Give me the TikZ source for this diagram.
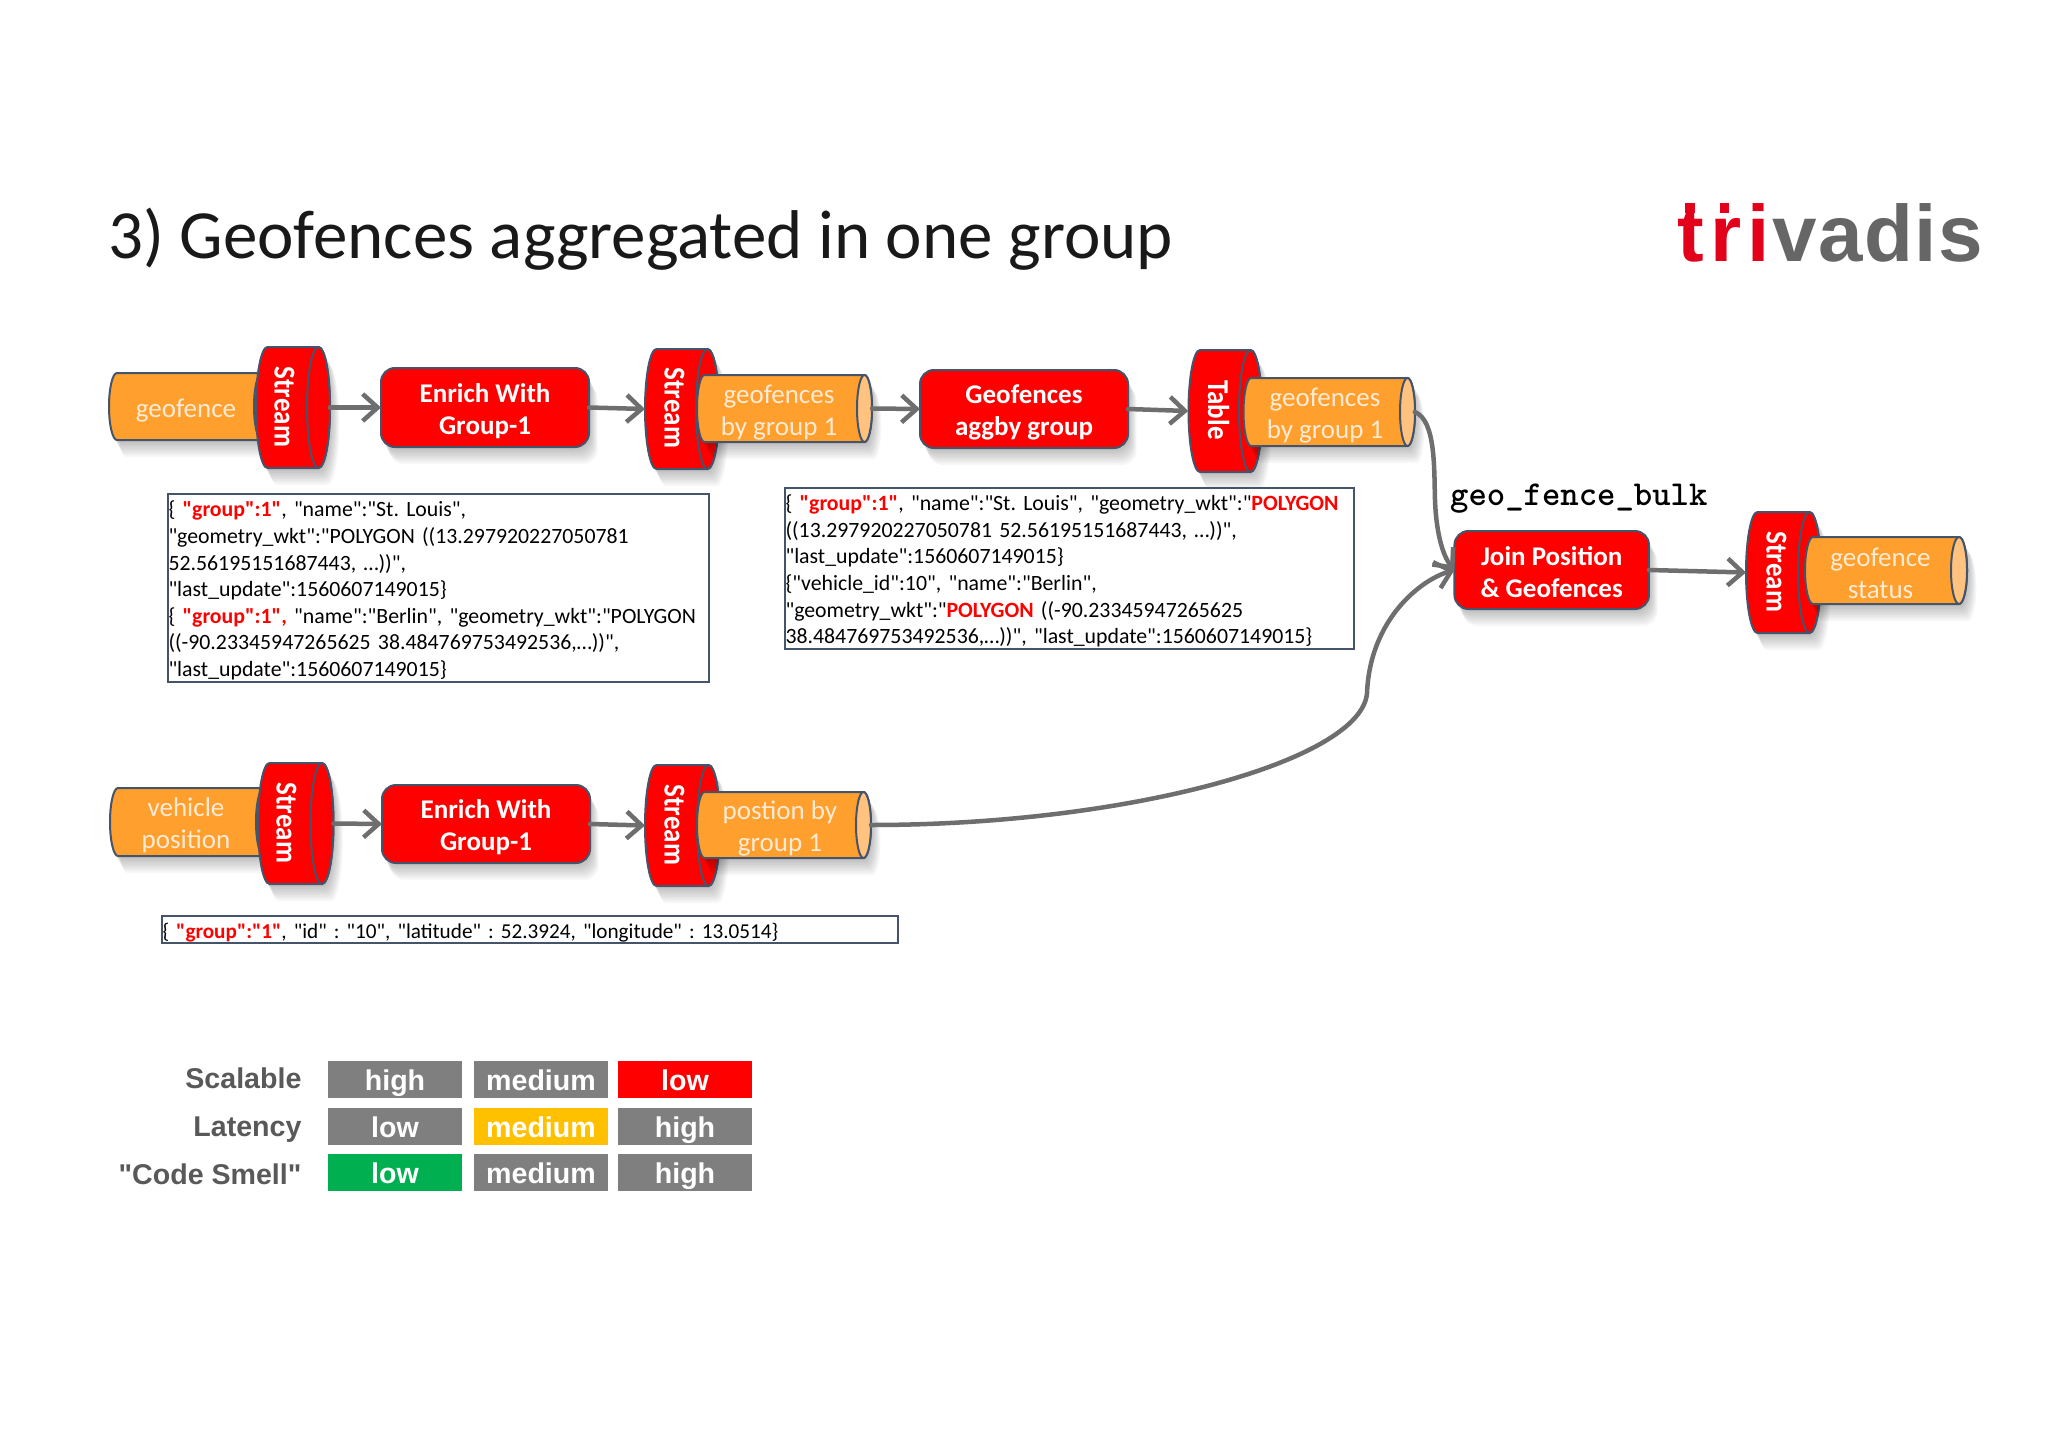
\documentclass[tikz,border=0pt]{standalone}
\usepackage{fontspec}
\setmainfont{Carlito}[Ligatures=TeXOff]
\newfontfamily\arialfont{Liberation Sans}
\newfontfamily\logofont[LetterSpace=8]{Liberation Sans}
\newfontfamily\logofontb[LetterSpace=2]{Liberation Sans}
\usetikzlibrary{arrows.meta}
\definecolor{slate}{HTML}{44546A}
\definecolor{orangebody}{HTML}{FF9F2E}
\definecolor{orangeend}{HTML}{FFC27F}
\definecolor{labeltext}{HTML}{FDEBD6}
\definecolor{flowgray}{HTML}{6E6E6E}
\definecolor{cellgray}{HTML}{7F7F7F}
\definecolor{cellamber}{HTML}{FFC000}
\definecolor{cellgreen}{HTML}{00B050}
\definecolor{tablelabel}{HTML}{595959}
\definecolor{logored}{HTML}{E2001A}
\definecolor{logogray}{HTML}{666666}
\newcommand{\jred}[1]{\textcolor{red}{\textbf{#1}}}
\newcommand{\firstline}{\rule{0pt}{21pt}}
\newcommand{\softcyl}[7]{%
  \pgfmathsetmacro\cL{#1+#5}%
  \pgfmathsetmacro\cR{#3-#5}%
  \pgfmathsetmacro\yM{(#2+#4)/2}%
  \pgfmathsetmacro\hH{(#4-#2)/2}%
  \pgfmathsetmacro\kX{.5523*#5}%
  \pgfmathsetmacro\kY{.5523*\hH}%
  \def\bodypath{(\cL,#2) -- (\cR,#2) .. controls (\cR+\kX,#2) and (#3,\yM-\kY) .. (#3,\yM) .. controls (#3,\yM+\kY) and (\cR+\kX,#4) .. (\cR,#4) -- (\cL,#4) .. controls (\cL-\kX,#4) and (#1,\yM+\kY) .. (#1,\yM) .. controls (#1,\yM-\kY) and (\cL-\kX,#2) .. cycle}%
  \foreach \s in {3,5,...,17} {\fill[black,opacity=.03,shift={(\s*.55,\s)}] \bodypath;}%
  \filldraw[draw=slate,line width=2pt,fill=#6] \bodypath;%
  \filldraw[draw=slate,line width=2pt,fill=#7] (\cR,\yM) ellipse [x radius=#5,y radius=\hH];%
}
\newcommand{\softbox}[4]{%
  \foreach \s in {3,5,...,17} {\fill[black,opacity=.03,rounded corners=14pt] (#1+\s*.5,#2+\s) rectangle (#3+\s*.5,#4+\s);}%
}
\tikzset{
  anchorbox/.style={inner sep=0pt,outer sep=0pt},
  orangelabel/.style={text=labeltext,align=center,yshift=-3pt,font=\fontsize{27}{32}\selectfont},
  redlabel/.style={text=white,rotate=-90,yscale=1.12,font=\bfseries\fontsize{27}{32}\selectfont},
  procbox/.style={draw=slate,line width=2pt,fill=red,rounded corners=14pt,inner sep=0pt,outer sep=0pt},
  proctext/.style={text=white,align=center,yshift=-3.5pt,font=\bfseries\fontsize{27}{32}\selectfont},
  jsonbox/.style={draw=slate,line width=2pt,fill=white,align=left,inner xsep=1pt,inner ysep=0pt,outer sep=0pt,anchor=north west},
  jsonbig/.style={font=\frenchspacing\fontsize{21.8}{26.6}\selectfont},
  jsonsmall/.style={font=\frenchspacing\fontsize{21.2}{26.6}\selectfont},
  flow/.style={draw=flowgray,line width=4.5pt,line cap=round,-{Straight Barb[length=15pt,width=27pt,line width=4.5pt]}},
  cell/.style={minimum width=134pt,minimum height=37pt,inner sep=0pt,text=white,text height=28pt,text depth=6pt,font=\arialfont\bfseries\fontsize{28.6}{32}\selectfont},
  rowlabel/.style={anchor=east,text=tablelabel,font=\arialfont\bfseries\fontsize{28.6}{32}\selectfont},
  logotext/.style={anchor=base west,inner sep=0pt},
}
\begin{document}
\begin{tikzpicture}[x=1pt,y=-1pt]
\useasboundingbox (0,0) rectangle (2048,1447);
\fill[white] (0,0) rectangle (2048,1447);

\node[anchor=west,text=black!90,font=\fontsize{69}{80}\selectfont,inner sep=0pt] (title) at (108,239) {3) Geofences aggregated in one group};
\node[logotext,text=logored,font=\logofont\bfseries\fontsize{80}{90}\selectfont] (logoa) at (1677,262) {tri};
\node[logotext,text=logogray,font=\logofontb\bfseries\fontsize{80}{90}\selectfont] (logob) at (1772,262) {vadis};
\fill[logored] (1685,203) rectangle (1695,213);
\fill[logored] (1720,203) rectangle (1729,213);

% top row
\softcyl{109}{373}{270}{440}{8}{orangebody}{orangebody}
\node[anchorbox,minimum width=147pt,minimum height=67pt] (c1) at (182.5,406.5) {};
\node[orangelabel] (c1t) at (186,408) {geofence};
\softcyl{256}{347}{330}{468}{11.5}{red}{red}
\node[anchorbox,minimum width=74pt,minimum height=121pt] (s1) at (293,407.5) {};
\node[redlabel] (s1t) at (284.5,407) {Stream};

\softbox{381}{368}{589}{447}
\node[procbox,minimum width=208pt,minimum height=79pt] (e1) at (485,407.5) {};
\node[proctext] (e1t) at (485,407.5) {Enrich With\\Group-1};

\softcyl{645}{349}{719}{469}{11.5}{red}{red}
\node[anchorbox,minimum width=74pt,minimum height=120pt] (s2) at (682,409) {};
\node[redlabel] (s2t) at (674.5,408) {Stream};
\softcyl{697}{375}{872}{442}{7.5}{orangebody}{orangeend}
\node[anchorbox,minimum width=175pt,minimum height=67pt] (c2) at (784.5,408.5) {};
\node[orangelabel] (c2t) at (779,410) {geofences\\by group 1};

\softbox{920}{370}{1128}{448}
\node[procbox,minimum width=208pt,minimum height=78pt] (g1) at (1024,409) {};
\node[proctext] (g1t) at (1024,409) {Geofences\\aggby group};

\softcyl{1188.5}{350}{1262}{472}{11.5}{red}{red}
\node[anchorbox,minimum width=73.5pt,minimum height=122pt] (t1) at (1225,411) {};
\node[redlabel] (t1t) at (1218.5,410) {Table};
\softcyl{1243.5}{378}{1415}{446}{7.5}{orangebody}{orangeend}
\node[anchorbox,minimum width=171.5pt,minimum height=68pt] (c3) at (1329,412) {};
\node[orangelabel] (c3t) at (1325,413) {geofences\\by group 1};

% json boxes
\node[jsonbox,jsonbig,text width=539.5pt,minimum height=188pt] (j1) at (167.5,494) {\firstline\{ \jred{"group":1"}, "name":"St. Louis",\\"geometry\_wkt":"POLYGON ((13.297920227050781\\52.56195151687443, …))",\\"last\_update":1560607149015\}\\\{ \jred{"group":1",} "name":"Berlin", "geometry\_wkt":"POLYGON\\((-90.23345947265625 38.484769753492536,…))",\\"last\_update":1560607149015\}};
\node[jsonbox,jsonbig,text width=567.5pt,minimum height=161pt] (j2) at (784.5,488) {\firstline\{ \jred{"group":1"}, "name":"St. Louis", "geometry\_wkt":"\jred{POLYGON}\\((13.297920227050781 52.56195151687443, …))",\\"last\_update":1560607149015\}\\\{"vehicle\_id":10", "name":"Berlin",\\"geometry\_wkt":"\jred{POLYGON} ((-90.23345947265625\\38.484769753492536,…))", "last\_update":1560607149015\}};
\node[jsonbox,jsonsmall,text width=734.5pt,minimum height=27pt] (j3) at (161.5,916) {\firstline\{ \jred{"group":"1"}, "id" : "10", "latitude" : 52.3924, "longitude" : 13.0514\}};

% join and status
\node[anchor=west,inner sep=0pt,font=\ttfamily\bfseries\fontsize{35}{38}\selectfont] (bulk) at (1450,499) {geo\_fence\_bulk};
\softbox{1454.5}{531}{1649}{609}
\node[procbox,minimum width=194.5pt,minimum height=78pt] (j) at (1551.7,570) {};
\node[proctext] (jt) at (1551.7,569) {Join Position\\\& Geofences};
\softcyl{1746}{512}{1821}{633}{11.5}{red}{red}
\node[anchorbox,minimum width=75pt,minimum height=121pt] (s3) at (1783.5,572.5) {};
\node[redlabel] (s3t) at (1776.5,572) {Stream};
\softcyl{1805}{537}{1967}{604}{8}{orangebody}{orangeend}
\node[anchorbox,minimum width=162pt,minimum height=67pt] (c4) at (1886,570.5) {};
\node[orangelabel] (c4t) at (1880.5,570.5) {geofence\\status};

% lower row
\softcyl{110}{788}{272}{856}{8}{orangebody}{orangebody}
\node[anchorbox,minimum width=148pt,minimum height=68pt] (c5) at (184,822) {};
\node[orangelabel] (c5t) at (186,822.5) {vehicle\\position};
\softcyl{258}{763}{333.5}{884}{11.5}{red}{red}
\node[anchorbox,minimum width=75.5pt,minimum height=121pt] (s4) at (295.7,823.5) {};
\node[redlabel] (s4t) at (286.5,823) {Stream};
\softbox{382}{785}{590}{863}
\node[procbox,minimum width=208pt,minimum height=78pt] (e2) at (486,824) {};
\node[proctext] (e2t) at (486,824) {Enrich With\\Group-1};
\softcyl{645}{765}{720}{886}{11.5}{red}{red}
\node[anchorbox,minimum width=75pt,minimum height=121pt] (s5) at (682.5,825.5) {};
\node[redlabel] (s5t) at (674.5,825) {Stream};
\softcyl{697}{792}{871}{858}{7.5}{orangebody}{orangeend}
\node[anchorbox,minimum width=174pt,minimum height=66pt] (c6) at (784,825) {};
\node[orangelabel] (c6t) at (780,825) {postion by\\group 1};

% connectors
\draw[flow] (s1.east) -- (e1.west);
\draw[flow] (e1.east) -- (s2.west);
\draw[flow] (c2.east) -- (g1.west);
\draw[flow] (g1.east) -- (t1.west);
\draw[flow] (j.east) -- (s3.west);
\draw[flow] (s4.east) -- (e2.west);
\draw[flow] (e2.east) -- (s5.west);
\draw[flow] (c3.east) .. controls (1436,420) and (1434,470) .. (1435,500) .. controls (1436,530) and (1442,555) .. (j.west);
\draw[flow] (c6.east) .. controls (1130,825) and (1362,760) .. (1367,693) .. controls (1370,620) and (1420,580) .. (j.west);

% rating table
\node[rowlabel] (r1) at (305,1078) {Scalable};
\node[rowlabel] (r2) at (305,1130) {Latency};
\node[rowlabel] (r3) at (305,1174) {"Code Smell"};
\node[cell,fill=cellgray] (a1) at (395,1079.5) {high};
\node[cell,fill=cellgray] (a2) at (541,1079.5) {medium};
\node[cell,fill=red] (a3) at (685,1079.5) {low};
\node[cell,fill=cellgray] (b1) at (395,1126) {low};
\node[cell,fill=cellamber] (b2) at (541,1126) {medium};
\node[cell,fill=cellgray] (b3) at (685,1126) {high};
\node[cell,fill=cellgreen] (d1) at (395,1172.5) {low};
\node[cell,fill=cellgray] (d2) at (541,1172.5) {medium};
\node[cell,fill=cellgray] (d3) at (685,1172.5) {high};
\end{tikzpicture}
\end{document}
